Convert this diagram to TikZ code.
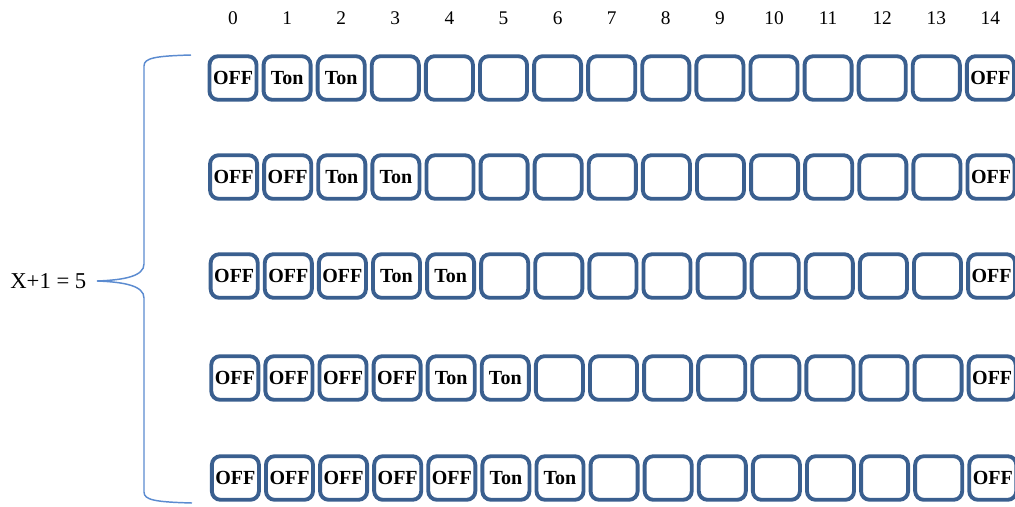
\documentclass[tikz,border=0pt]{standalone}
\usepackage{fontspec}
\setmainfont{Liberation Serif}
\usetikzlibrary{positioning, calc}
\definecolor{cellblue}{HTML}{3A5F8F}
\definecolor{braceblue}{HTML}{5B8BD0}

\begin{document}
\begin{tikzpicture}[
    x=0.75pt, y=-0.75pt,
    cell/.style={draw=cellblue, line width=2.9pt, fill=white, rounded corners=6.5pt,
                 minimum width=35.3pt, minimum height=32.7pt, inner sep=0pt,
                 font=\fontsize{15}{15}\selectfont\bfseries},
    idx/.style={font=\fontsize{14.5}{14.5}\selectfont},
    brace/.style={draw=braceblue, line width=1.1pt},
]
\useasboundingbox (0,0) rectangle (1015,507);

% cells: row r has r OFF cells, then two Ton cells, last cell OFF
\foreach \r/\ry in {1/78, 2/177, 3/276, 4/378, 5/478} {
    \foreach \i in {0,...,14} {
        \pgfmathtruncatemacro{\ton}{(\i>=\r) && (\i<=\r+1) ? 1 : 0}
        \pgfmathtruncatemacro{\off}{(\i<\r) || (\i==14) ? 1 : 0}
        \ifnum\off=1 \def\txt{OFF}\else\ifnum\ton=1 \def\txt{Ton}\else\def\txt{}\fi\fi
        \node[cell] (c-\r-\i) at ({233+54.1*\i+0.6*(\r-1)}, \ry) {\txt};
    }
}

% column numbers
\foreach \i in {0,...,14} {
    \node[idx] (n-\i) at ($(c-1-\i)+(0,-60)$) {\i};
}

% brace and its label
\draw[brace] (191,55) .. controls (155,56) and (144,58) .. (144,66) -- (144,264)
    .. controls (144,276) and (125,280) .. (97,281)
    .. controls (125,282) and (144,286) .. (144,298) -- (144,492)
    .. controls (144,500) and (155,502) .. (192,503);
\node[font=\fontsize{17}{17}\selectfont, anchor=east] (eq) at (91,281) {X+1 = 5};
\end{tikzpicture}
\end{document}
